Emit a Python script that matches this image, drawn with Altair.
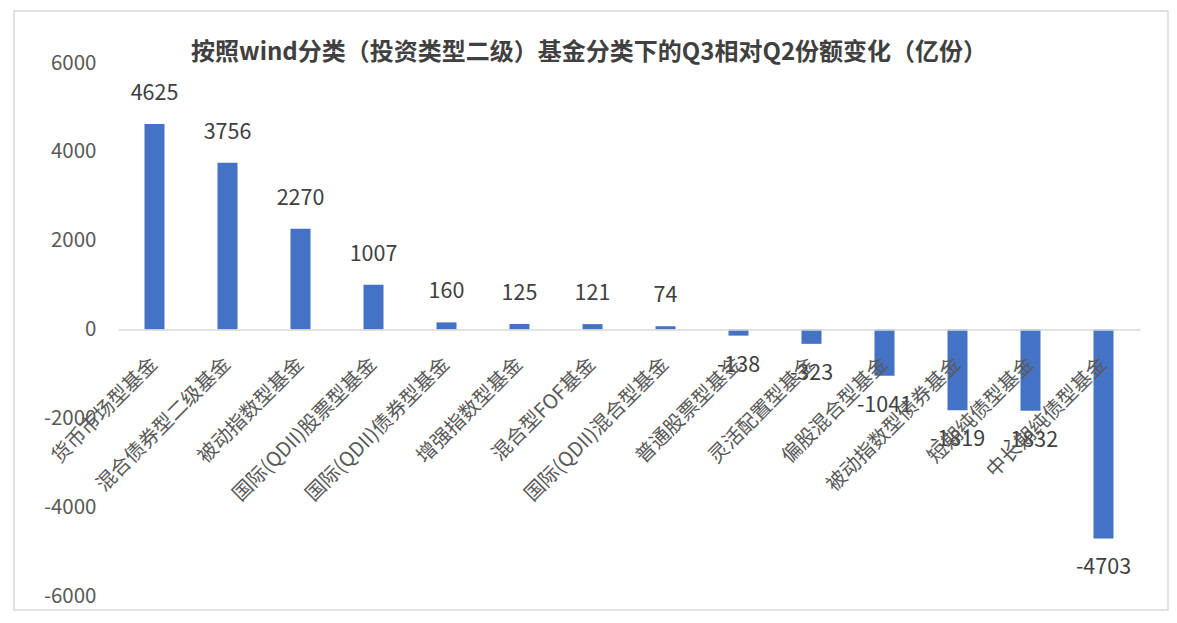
import altair as alt
import pandas as pd

categories = ["货币市场型基金", "混合债券型二级基金", "被动指数型基金", "国际(QDII)股票型基金",
              "国际(QDII)债券型基金", "增强指数型基金", "混合型FOF基金", "国际(QDII)混合型基金",
              "普通股票型基金", "灵活配置型基金", "偏股混合型基金", "被动指数型债券基金",
              "短期纯债型基金", "中长期纯债型基金"]
values = [4625, 3756, 2270, 1007, 160, 125, 121, 74, -138, -323, -1041, -1819, -1832, -4703]
y_ticks = [-6000, -4000, -2000, 0, 2000, 4000, 6000]
title_text = "按照wind分类（投资类型二级）基金分类下的Q3相对Q2份额变化（亿份）"

FONT = "Noto Sans CJK SC"
W, H = 1022, 533

df = pd.DataFrame({"cat": categories, "val": values})
df["label"] = df["val"].astype(str)

x_enc = alt.X("cat:N", sort=categories, title=None,
              scale=alt.Scale(paddingInner=0, paddingOuter=0),
              axis=alt.Axis(orient="bottom", offset=-H / 2, labelAngle=315, labelAlign="right",
                            labelBaseline="middle", labelPadding=31, ticks=False,
                            domainColor="#d9d9d9", domainWidth=1.5, labelColor="#595959",
                            labelFontSize=20, labelFont=FONT, labelLimit=400,
                            labelOverlap=False, labelFlush=False, zindex=1))
y_scale = alt.Scale(domain=[-6000, 6000], nice=False)
y_enc = alt.Y("val:Q", scale=y_scale, title=None,
              axis=alt.Axis(values=y_ticks, labelExpr="'' + datum.value", domain=False, ticks=False,
                            grid=False, labelPadding=22, labelColor="#595959", labelFontSize=20.5,
                            labelFont=FONT))

base = alt.Chart(df)
bars = base.mark_bar(size=20, color="#4472C4").encode(x=x_enc, y=y_enc)
pos_labels = base.transform_filter("datum.val >= 0").mark_text(
    dy=-30, baseline="middle", align="center", fontSize=21.5, font=FONT, color="#404040"
).encode(x=alt.X("cat:N", sort=categories), y=alt.Y("val:Q", scale=y_scale), text="label:N")
neg_labels = base.transform_filter("datum.val < 0").mark_text(
    dy=30, baseline="middle", align="center", fontSize=21.5, font=FONT, color="#404040"
).encode(x=alt.X("cat:N", sort=categories), y=alt.Y("val:Q", scale=y_scale), text="label:N")
one = pd.DataFrame({"t": [title_text]})
frame = alt.Chart(one).mark_rect(
    fill=None, stroke="#d9d9d9", strokeWidth=1.5
).encode(x=alt.value(-104), x2=alt.value(1050), y=alt.value(-52), y2=alt.value(547))
title = alt.Chart(one).mark_text(
    font=FONT, fontSize=24, fontWeight="bold", color="#404040", align="center", baseline="middle"
).encode(x=alt.value(471), y=alt.value(-10), text="t:N")

chart = alt.layer(frame, bars, pos_labels, neg_labels, title).properties(
    width=W, height=H,
    autosize=alt.AutoSizeParams(type="none"),
    padding={"left": 110, "top": 55, "right": 29, "bottom": 19},
).configure_view(stroke=None)

chart.save("out.html", embed_options={"renderer": "svg", "actions": False})
